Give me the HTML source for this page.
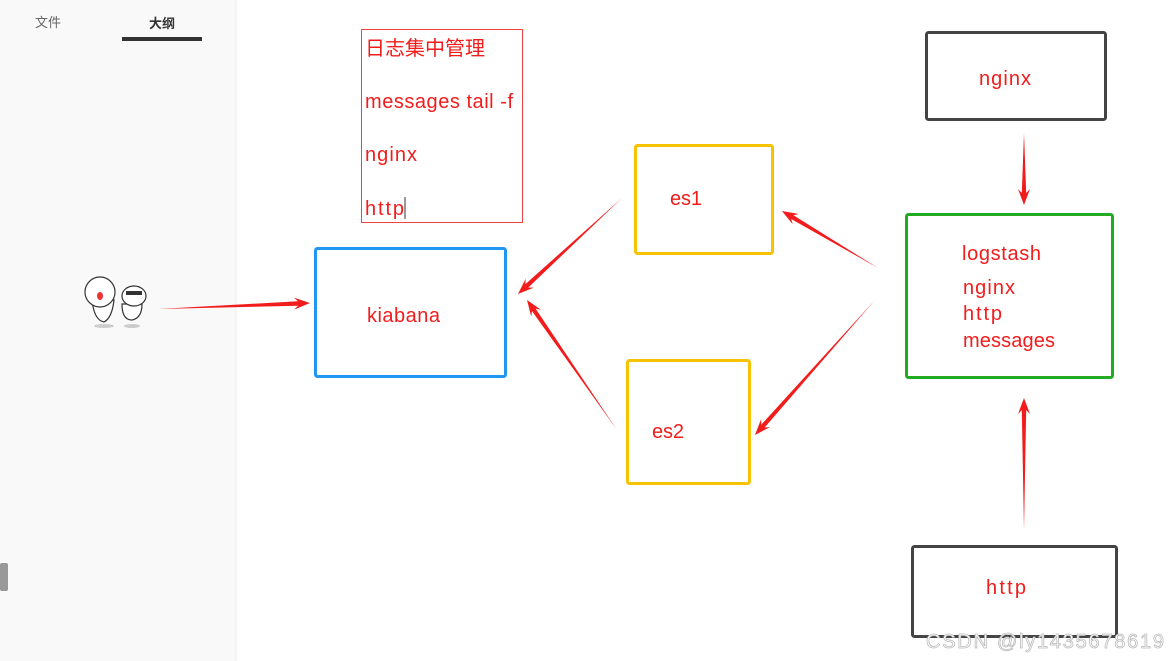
<!DOCTYPE html>
<html><head><meta charset="utf-8"><style>
html,body{margin:0;padding:0;width:1168px;height:661px;overflow:hidden;background:#fff;font-family:"Liberation Sans","Noto Sans CJK SC",sans-serif}
</style></head><body>
<svg id="s" width="1168" height="661" xmlns="http://www.w3.org/2000/svg" font-family="Liberation Sans, Noto Sans CJK SC, sans-serif">
<rect x="0" y="0" width="236" height="661" fill="#f9f9f9"/>
<line x1="236" y1="0" x2="236" y2="661" stroke="#eeeeee"/>
<text x="48" y="27" font-size="13" fill="#666" text-anchor="middle">文件</text>
<text x="162" y="28" font-size="13" fill="#333" font-weight="bold" text-anchor="middle">大纲</text>
<rect x="122" y="37" width="80" height="4" fill="#333"/>
<rect x="0" y="563" width="8" height="28" rx="2" fill="#999"/>
<g stroke="#333" stroke-width="1.2" fill="#fff">
<ellipse cx="104" cy="326" rx="10" ry="2" fill="#ccc" stroke="none"/>
<ellipse cx="132" cy="326" rx="8" ry="2" fill="#ccc" stroke="none"/>
<path d="M92 300 Q94 320 104 322 Q112 318 114 300 Z"/>
<circle cx="100" cy="292" r="15"/>
<path d="M122 304 Q122 320 132 320 Q142 318 142 304 Z"/>
<ellipse cx="134" cy="296" rx="12" ry="10"/>
</g>
<ellipse cx="100" cy="296" rx="3" ry="4" fill="#e33"/>
<rect x="126" y="291" width="16" height="4" fill="#333"/>
<rect x="361.5" y="29.5" width="161" height="193" fill="none" stroke="#f04040" stroke-width="1"/>
<rect x="315.5" y="248.5" width="190" height="128" rx="2" fill="none" stroke="#2196f3" stroke-width="3"/>
<rect x="635.5" y="145.5" width="137" height="108" rx="2" fill="none" stroke="#f7c300" stroke-width="3"/>
<rect x="627.5" y="360.5" width="122" height="123" rx="2" fill="none" stroke="#f7c300" stroke-width="3"/>
<rect x="926.5" y="32.5" width="179" height="87" rx="2" fill="none" stroke="#444" stroke-width="3"/>
<rect x="906.5" y="214.5" width="206" height="163" rx="2" fill="none" stroke="#22aa22" stroke-width="3"/>
<rect x="912.5" y="546.5" width="204" height="90" rx="2" fill="none" stroke="#444" stroke-width="3"/>
<g fill="#f21c1c" font-size="20">
<text x="365" y="55">日志集中管理</text>
<text x="365" y="108" textLength="148">messages tail -f</text>
<text x="365" y="161" textLength="52">nginx</text>
<text x="365" y="215" textLength="39">http</text>
<text x="367" y="322" textLength="73">kiabana</text>
<text x="670" y="205" textLength="32">es1</text>
<text x="652" y="438" textLength="32">es2</text>
<text x="979" y="85" textLength="52">nginx</text>
<text x="962" y="260" textLength="79">logstash</text>
<text x="963" y="294" textLength="52">nginx</text>
<text x="963" y="320" textLength="39">http</text>
<text x="963" y="347" textLength="92">messages</text>
<text x="986" y="594" textLength="40">http</text>
</g>
<line x1="405" y1="197" x2="405" y2="219" stroke="#333" stroke-width="1"/>
<g id="arr" fill="#f21c1c"></g>
<text x="926" y="648" font-size="20" fill="#fff" stroke="#bbb" stroke-width="0.8" textLength="238">CSDN @ly1435678619</text>
</svg>
<script>
var A=[[158,309,310,303],[622,198,518,294],[617,430,527,300],[878,268,782,211],[875,300,755,435],[1024,133,1024,205],[1024,530,1024,398]];
var g=document.getElementById('arr'),h='';
A.forEach(function(a){var dx=a[2]-a[0],dy=a[3]-a[1],L=Math.hypot(dx,dy),ux=dx/L,uy=dy/L,px=-uy,py=ux;
var hl=16,hw=6,bw=2.2,bx=a[2]-ux*hl,by=a[3]-uy*hl,nx=a[2]-ux*(hl-4),ny=a[3]-uy*(hl-4);
var p=[[a[0],a[1]],[nx+px*bw,ny+py*bw],[bx+px*hw,by+py*hw],[a[2],a[3]],[bx-px*hw,by-py*hw],[nx-px*bw,ny-py*bw]];
h+='<polygon points="'+p.map(function(q){return q[0].toFixed(1)+','+q[1].toFixed(1)}).join(' ')+'"/>';});
g.innerHTML=h;
</script>
</body></html>
